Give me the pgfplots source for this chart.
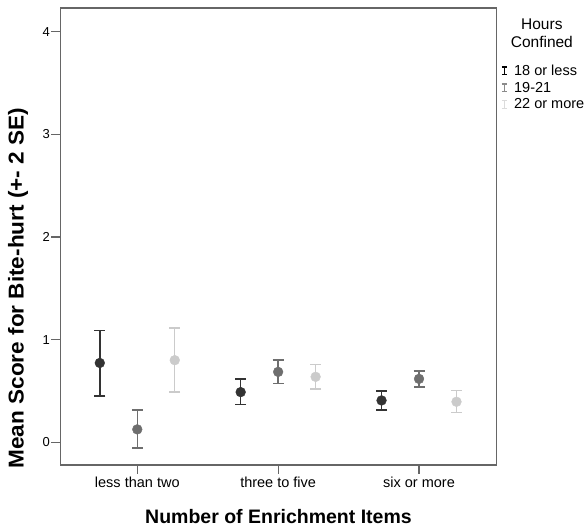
\documentclass[border=0pt]{standalone}
\usepackage{pgfplots}
\pgfplotsset{compat=1.18}
\usepackage{fontspec}
\setmainfont{Liberation Sans}
\definecolor{cdark}{HTML}{333333}
\definecolor{cmed}{HTML}{6E6E6E}
\definecolor{clight}{HTML}{CBCBCB}
\definecolor{cframe}{HTML}{666666}

\pgfplotstableread{
x y ep em
-0.266 0.773 0.317 0.323
0.734 0.489 0.126 0.120
1.734 0.408 0.090 0.094
}\darkdata
\pgfplotstableread{
x y ep em
0 0.126 0.188 0.181
1 0.686 0.117 0.113
2 0.618 0.078 0.081
}\meddata
\pgfplotstableread{
x y ep em
0.266 0.800 0.313 0.310
1.266 0.638 0.119 0.117
2.266 0.395 0.107 0.107
}\lightdata

\pgfplotsset{
  ebar/.style={only marks, mark=*, mark size=4.9pt, color=#1,
    mark options={fill=#1, draw=#1},
    error bars/y dir=both, error bars/y explicit,
    error bars/error bar style={line width=1.4pt, color=#1},
    error bars/error mark options={rotate=90, mark size=5.5pt, line width=1.4pt, color=#1}},
  legI/.style={#1, legend image code/.code={
    \draw[line width=1.3pt] (0pt,-3.8pt)--(0pt,3.8pt) (-2.7pt,-3.8pt)--(2.7pt,-3.8pt) (-2.7pt,3.8pt)--(2.7pt,3.8pt);
    \path[draw=none, fill=none] (0pt,0pt) (7.5pt,0pt);}},
}

\begin{document}
\begin{tikzpicture}[x=1pt,y=1pt]
\useasboundingbox (0,0) rectangle (587,527);
\begin{axis}[
  at={(60.5pt,62pt)}, anchor=south west,
  scale only axis, width=436pt, height=457pt,
  xmin=-0.545, xmax=2.55, ymin=-0.221, ymax=4.231,
  xtick={0,1,2}, xticklabels={less than two, three to five, six or more},
  ytick={0,1,2,3,4},
  tick align=outside, tick pos=left, major tick length=9pt,
  axis line style={cframe, line width=1.3pt},
  every tick/.style={cframe, line width=1.1pt},
  xticklabel style={font=\fontsize{14.5}{17}\selectfont, yshift=1pt},
  yticklabel style={font=\fontsize{13}{15}\selectfont, xshift=2pt},
  /pgf/number format/assume math mode=true,
  xlabel={Number of Enrichment Items},
  ylabel={\scalebox{1.05}[1]{Mean Score for Bite-hurt (+- 2 SE)}},
  xlabel style={font=\bfseries\fontsize{19.5}{22}\selectfont, at={(axis description cs:0.5,-0.1138)}, anchor=center},
  ylabel style={font=\bfseries\fontsize{21.5}{24}\selectfont, at={(axis description cs:-0.0975,0.387)}, anchor=center},
  legend style={at={(axis description cs:1.006,0.885)}, anchor=north west, draw=none, fill=none,
    font=\fontsize{14.5}{16}\selectfont, row sep=1.2pt, inner sep=2pt},
  legend cell align=left,
  clip=false,
]
\addplot[forget plot, ebar=cdark] table[x=x, y=y, y error plus=ep, y error minus=em] {\darkdata};
\addplot[forget plot, ebar=cmed] table[x=x, y=y, y error plus=ep, y error minus=em] {\meddata};
\addplot[forget plot, ebar=clight] table[x=x, y=y, y error plus=ep, y error minus=em] {\lightdata};
\addlegendimage{legI=black}
\addlegendentry{18 or less}
\addlegendimage{legI=cmed!80}
\addlegendentry{19-21}
\addlegendimage{legI=clight!70}
\addlegendentry{22 or more}
\node[align=center, font=\fontsize{15.5}{17.7}\selectfont, anchor=center] at (axis description cs:1.104,0.944) {Hours\\Confined};
\end{axis}
\end{tikzpicture}
\end{document}
